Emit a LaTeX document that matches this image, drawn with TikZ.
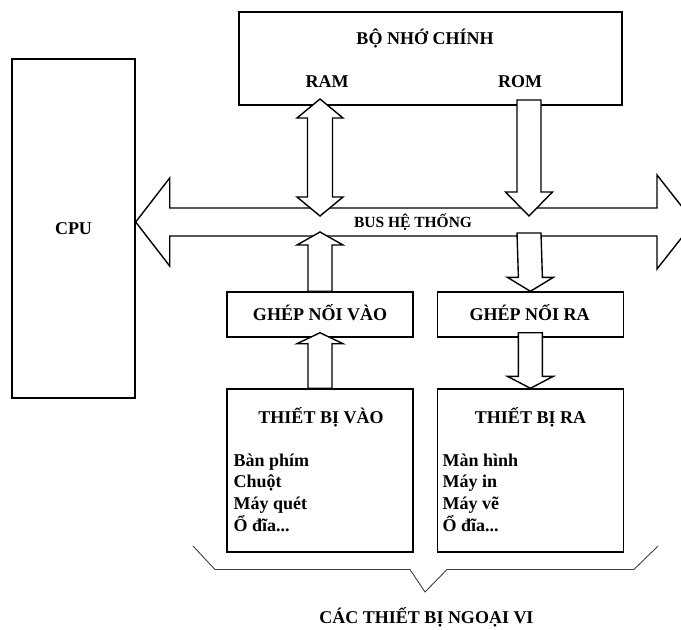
\documentclass[tikz,border=0pt]{standalone}
\usepackage{fontspec}
\setmainfont{Liberation Serif}
\usetikzlibrary{positioning, calc}

\begin{document}
\begin{tikzpicture}[x=1pt, y=-1pt, line width=1.4pt,
    box/.style={draw, inner sep=0pt},
    lbl/.style={font=\bfseries\fontsize{18}{21.7}\selectfont, inner sep=0pt, anchor=base},
    item/.style={lbl, anchor=base west},
    blockarrow/.style={draw, fill=white, line join=miter}]
  \useasboundingbox (0,0) rectangle (681,630);

  % CPU and main memory
  \node[box, minimum width=123pt, minimum height=339pt] (cpu) at (73.5,228.5) {};
  \node[box, minimum width=383pt, minimum height=93pt] (mem) at (430.5,58.5) {};

  % Interfaces and devices
  \node[box, minimum width=186pt, minimum height=45pt] (gin) at (320,314.5) {};
  \node[box, minimum width=186pt, minimum height=45pt, right=23pt of gin] (gout) {};
  \node[box, minimum width=186pt, minimum height=163pt] (din) at (320,470.5) {};
  \node[box, minimum width=186pt, minimum height=163pt, right=23pt of din] (dout) {};

  % System bus
  \coordinate (busR) at (694,222);
  \draw[blockarrow] (cpu.east |- busR) -- ++(34,-44) -- ++(0,30)
    -- ($(busR)+(-37,-14)$) -- ++(0,-33) -- (busR) -- ++(-37,47) -- ++(0,-33)
    -- ($(cpu.east |- busR)+(34,14)$) -- ++(0,30) -- cycle;

  % RAM <-> bus
  \coordinate (ramtop) at (320,99);
  \coordinate (rambot) at (320,216);
  \draw[blockarrow] (ramtop) -- ++(23,19) -- ++(-10.5,0) -- ($(rambot)+(12.5,-19)$)
    -- ++(10.5,0) -- (rambot) -- ++(-23,-19) -- ++(10.5,0)
    -- ($(ramtop)+(-12.5,19)$) -- ++(-10.5,0) -- cycle;

  % ROM -> bus
  \coordinate (romtop) at (529,100);
  \coordinate (rombot) at (529,216);
  \draw[blockarrow] ($(romtop)+(-12,0)$) -- ($(rombot)+(-12,-24)$) -- ++(-11.5,0)
    -- (rombot) -- ++(23.5,-24) -- ++(-11.5,0) -- ($(romtop)+(12,0)$) -- cycle;

  % Input side (upwards)
  \coordinate (intip) at (320,232);
  \draw[blockarrow] ($(gin.north)+(-12,0)$) -- ($(intip)+(-12,13)$) -- ++(-11,0)
    -- (intip) -- ++(23,13) -- ++(-11,0) -- ($(gin.north)+(12,0)$) -- cycle;
  \coordinate (gintip) at ($(gin.south)+(0,-5)$);
  \draw[blockarrow] ($(din.north)+(-12,0)$) -- ($(gintip)+(-12,11)$) -- ++(-11,0)
    -- (gintip) -- ++(23,11) -- ++(-11,0) -- ($(din.north)+(12,0)$) -- cycle;

  % Output side (downwards)
  \coordinate (outtail) at (529,233);
  \draw[blockarrow] ($(outtail)+(-12,0)$) -- ($(gout.north)+(-12,-14)$) -- ++(-11,0)
    -- (gout.north) -- ++(23,-14) -- ++(-11,0) -- ($(outtail)+(12,0)$) -- cycle;
  \coordinate (gouttail) at ($(gout.south)+(0,-5)$);
  \draw[blockarrow] ($(gouttail)+(-12,0)$) -- ($(dout.north)+(-12,-12)$) -- ++(-11,0)
    -- (dout.north) -- ++(23,-12) -- ++(-11,0) -- ($(gouttail)+(12,0)$) -- cycle;

  % Labels
  \node[lbl] (cputxt) at (73.5,234) {CPU};
  \node[lbl] (memtxt) at (425,44) {BỘ NHỚ CHÍNH};
  \node[lbl] (ram) at (327,87) {RAM};
  \node[lbl] (rom) at (520,87) {ROM};
  \node[lbl, font=\bfseries\fontsize{15.5}{18}\selectfont] (bustxt) at (413,227.5) {BUS HỆ THỐNG};
  \node[lbl] (gintxt) at (320,320) {GHÉP NỐI VÀO};
  \node[lbl] (gouttxt) at (529.5,320) {GHÉP NỐI RA};
  \node[lbl] (dintxt) at (321,423) {THIẾT BỊ VÀO};
  \node[lbl] (douttxt) at (530.5,423) {THIẾT BỊ RA};

  % Device lists
  \node[item] (in1) at (233,466) {Bàn phím};
  \node[item] (in2) at (233,487.7) {Chuột};
  \node[item] (in3) at (233,509.4) {Máy quét};
  \node[item] (in4) at (233,531.1) {Ổ đĩa...};
  \node[item] (out1) at (442,466) {Màn hình};
  \node[item] (out2) at (442,487.7) {Máy in};
  \node[item] (out3) at (442,509.4) {Máy vẽ};
  \node[item] (out4) at (442,531.1) {Ổ đĩa...};

  % Peripheral brace
  \draw[line width=0.9pt, black!75] (193,546) -- (215,569.5) -- (410,569.5) -- (425,592)
    -- (447,569.5) -- (634,569.5) -- (658,546);
  \node[lbl] (periph) at (426.5,623) {CÁC THIẾT BỊ NGOẠI VI};
\end{tikzpicture}
\end{document}
